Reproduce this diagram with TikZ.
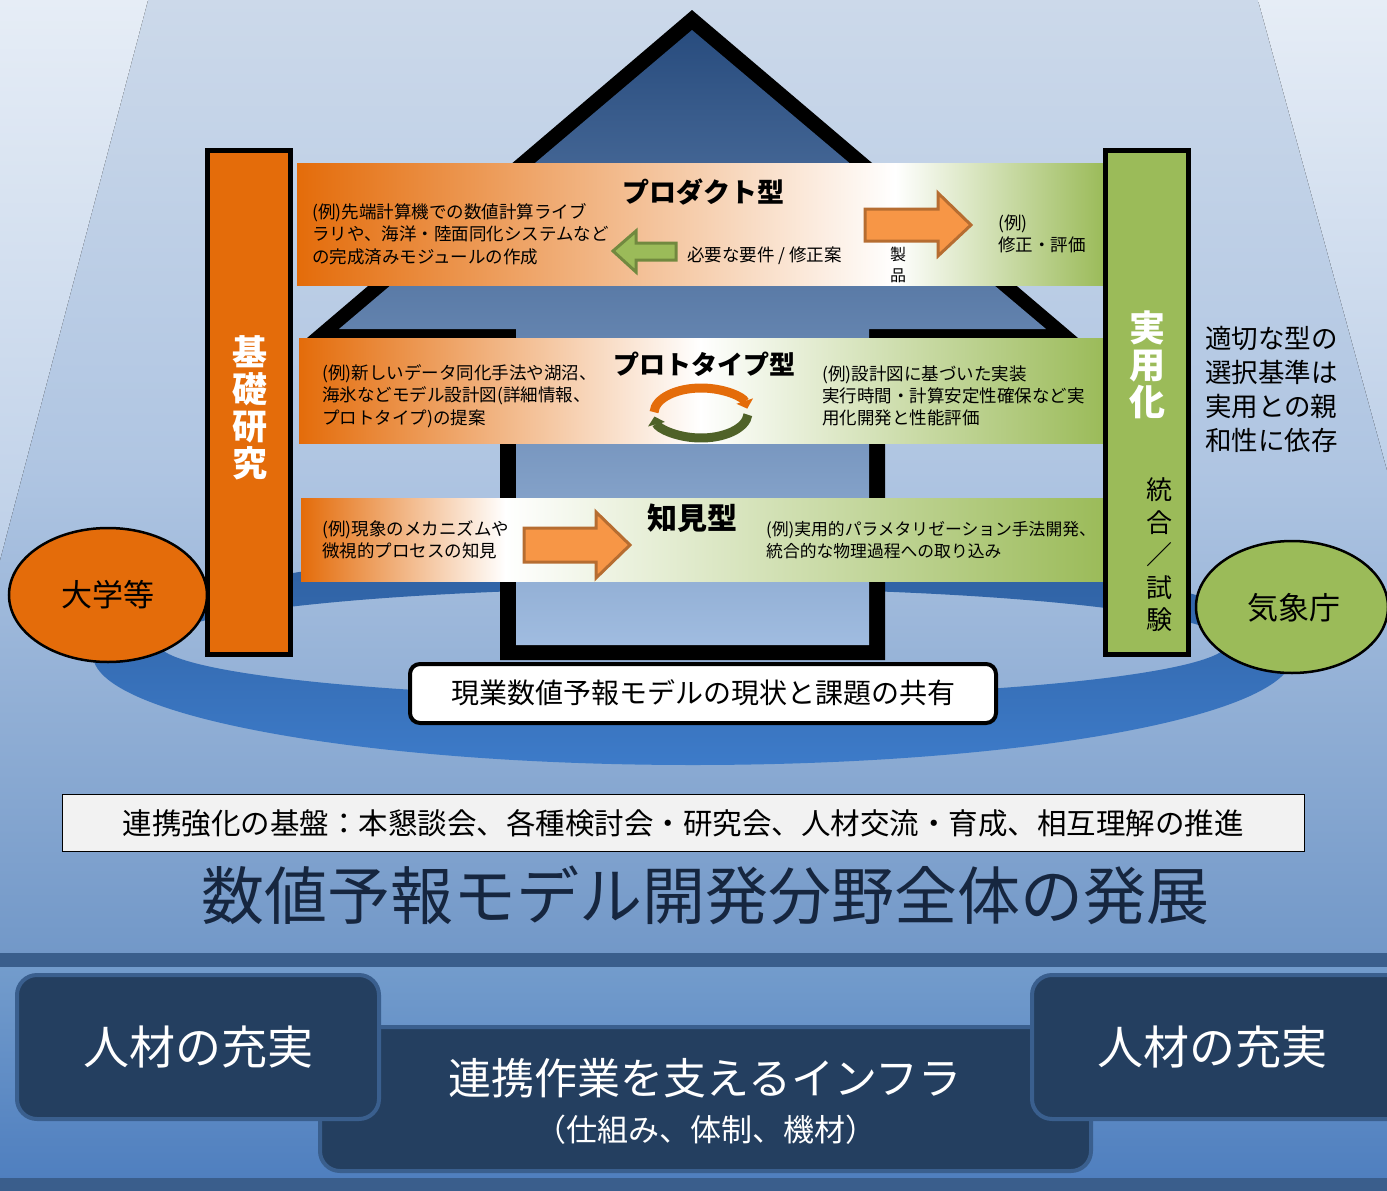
\documentclass[tikz,border=0pt]{standalone}
\usepackage{fontspec}
\setmainfont{Noto Sans CJK JP}
\usetikzlibrary{arrows.meta}
\newcommand{\fsz}[2]{\fontsize{#1}{#2}\selectfont}
\definecolor{bgA}{HTML}{CCD9EA}
\definecolor{bgB}{HTML}{AFC5E2}
\definecolor{bgC}{HTML}{7298C8}
\definecolor{sideA}{HTML}{E6EDF6}
\definecolor{sideB}{HTML}{BED0E8}
\definecolor{stripeC}{HTML}{3A5E8C}
\definecolor{lowA}{HTML}{739CCC}
\definecolor{lowB}{HTML}{4F7FBF}
\definecolor{ringA}{HTML}{2E5F9F}
\definecolor{ringB}{HTML}{3D7BC9}
\definecolor{houseA}{HTML}{284C7E}
\definecolor{houseB}{HTML}{3A69A3}
\definecolor{houseC}{HTML}{A0BCE0}
\definecolor{org}{HTML}{E46C0A}
\definecolor{grn}{HTML}{9BBB59}
\definecolor{arrO}{HTML}{F79646}
\definecolor{arrOd}{HTML}{B66D31}
\definecolor{arrGd}{HTML}{71893F}
\definecolor{cycG}{HTML}{4F6228}
\definecolor{navyF}{HTML}{243F60}
\definecolor{navyB}{HTML}{3A5F8E}
\definecolor{ttlc}{HTML}{16263F}
\definecolor{baseF}{HTML}{F2F2F2}
\begin{document}
\begin{tikzpicture}[x=1pt,y=-1pt,
  lbl/.style={inner sep=0pt, anchor=west, align=left, font=\fsz{17.5}{22.3}},
  head/.style={inner sep=0pt, font=\bfseries\fsz{27}{30}},
  vtxt/.style={inner sep=0pt, align=center},
  blockarrow/.style={line width=3, line join=miter},
  pillar/.style={line width=5, draw=black},
  bottombox/.style={fill=navyF, draw=navyB, line width=4, rounded corners=20},
]
\useasboundingbox (0,0) rectangle (1387,1191);
% background
\fill[top color=bgA, bottom color=bgB] (0,0) rectangle (1387,471);
\fill[top color=bgB, bottom color=bgC] (0,470) rectangle (1387,954);
\fill[top color=sideA, bottom color=sideB] (0,0) -- (148,0) -- (0,560) -- cycle;
\fill[top color=sideA, bottom color=sideB] (1258,0) -- (1387,0) -- (1387,470) -- cycle;
\fill[stripeC] (0,953) rectangle (1387,967);
\fill[top color=lowA, bottom color=lowB] (0,967) rectangle (1387,1178);
\fill[stripeC] (0,1178) rectangle (1387,1191);
% ring
\shade[top color=ringA, bottom color=ringB, even odd rule]
  (693,655) ellipse [x radius=600, y radius=110]
  (693,643) ellipse [x radius=535, y radius=55];
% house
\fill[black] (692,10) -- (1078,338) -- (885,338) -- (885,660) -- (500,660) -- (500,338) -- (307,338) -- cycle;
\fill[top color=houseA, middle color=houseB, bottom color=houseC]
  (692,30) -- (1046,329) -- (869,329) -- (869,645) -- (516,645) -- (516,329) -- (339,329) -- cycle;
% bands
\fill[left color=org, right color=white] (297,163) rectangle (895.5,285);
\fill[left color=white, right color=grn] (895,163) rectangle (1104,285);
\fill[left color=org, right color=white] (299,338) rectangle (700.5,443);
\fill[left color=white, right color=grn] (700,338) rectangle (1104,443);
\fill[left color=org, right color=white] (301,498) rectangle (505.5,581);
\fill[left color=white, right color=grn] (505,498) rectangle (1104,581);
% pillars
\draw[pillar, fill=org] (207.5,150.5) rectangle (290.5,654.5);
\draw[pillar, fill=grn] (1105.5,150.5) rectangle (1188.5,654.5);
% ellipses
\draw[fill=org, line width=2.5] (108,595) ellipse [x radius=99, y radius=67];
\draw[fill=grn, line width=2.5] (1292,607) ellipse [x radius=96, y radius=66];
% block arrows
\draw[blockarrow, fill=arrO, draw=arrOd] (865,209) -- (938,209) -- (938,193) -- (971,225) -- (938,256) -- (938,241) -- (865,241) -- cycle;
\draw[blockarrow, fill=grn, draw=arrGd] (613,251) -- (636,231) -- (636,243) -- (676,243) -- (676,260) -- (636,260) -- (636,272) -- cycle;
\draw[blockarrow, fill=arrO, draw=arrOd] (524,528) -- (596,528) -- (596,512) -- (630,545) -- (596,578) -- (596,562) -- (524,562) -- cycle;
% cycle arrows
\draw[org, line width=9, -{Triangle[length=8pt, width=17pt]}] (701,413) ++(182:47 and 25) arc[start angle=182, end angle=350, x radius=47, y radius=25];
\draw[cycG, line width=9, -{Triangle[length=8pt, width=17pt]}] (701,413) ++(4:47 and 25) arc[start angle=4, end angle=172, x radius=47, y radius=25];
% boxes
\draw[fill=white, line width=4, rounded corners=10] (410,664) rectangle (996,723);
\draw[fill=baseF, line width=1.5] (62.5,794.5) rectangle (1304.5,851.5);
\draw[bottombox] (320,1027) rectangle (1091,1171);
\draw[bottombox] (17,975) rectangle (379,1119);
\draw[bottombox] (1032,975) rectangle (1410,1119);
% texts
\node[head] (p1t) at (703,192) {プロダクト型};
\node[lbl] (p1l) at (312,234) {(例)先端計算機での数値計算ライブ\\ラリや、海洋・陸面同化システムなど\\の完成済みモジュールの作成};
\node[lbl, font=\fsz{17.5}{20}] (p1m) at (687,256) {必要な要件 / 修正案};
\node[vtxt, font=\fsz{16}{21}, anchor=north] (p1s) at (898,247) {製\\品};
\node[lbl] (p1r) at (998,234) {(例)\\修正・評価};
\node[head, font=\bfseries\fsz{26}{30}] (p2t) at (704,364) {プロトタイプ型};
\node[lbl] (p2l) at (322,396) {(例)新しいデータ同化手法や湖沼、\\海氷などモデル設計図(詳細情報、\\プロトタイプ)の提案};
\node[lbl] (p2r) at (822,396) {(例)設計図に基づいた実装\\実行時間・計算安定性確保など実\\用化開発と性能評価};
\node[head, font=\bfseries\fsz{30}{32}] (p3t) at (692,518) {知見型};
\node[lbl] (p3l) at (322,540) {(例)現象のメカニズムや\\微視的プロセスの知見};
\node[lbl, font=\fsz{16.8}{22.3}] (p3r) at (766,540) {(例)実用的パラメタリゼーション手法開発、\\統合的な物理過程への取り込み};
\node[vtxt, text=white, font=\bfseries\fsz{35}{37}] (kiso) at (250,408) {基\\礎\\研\\究};
\node[vtxt, text=white, font=\bfseries\fsz{36}{37}] (jitsu) at (1147,365) {実\\用\\化};
\node[vtxt, font=\fsz{26}{32.5}] (togo) at (1159,555) {統\\合\\／\\試\\験};
\node[inner sep=0pt, align=left, anchor=west, font=\fsz{26.5}{34}] (crit) at (1205,389) {適切な型の\\選択基準は\\実用との親\\和性に依存};
\node[font=\fsz{31}{34}] (univ) at (108,595) {大学等};
\node[font=\fsz{31}{34}] (jma) at (1294,608) {気象庁};
\node[font=\fsz{28}{30}] (share) at (703,693) {現業数値予報モデルの現状と課題の共有};
\node[font=\fsz{29.5}{32}] (base) at (683,823) {連携強化の基盤：本懇談会、各種検討会・研究会、人材交流・育成、相互理解の推進};
\node[text=ttlc, font=\fsz{63}{66}] (title) at (705,895) {数値予報モデル開発分野全体の発展};
\node[text=white, font=\fsz{46}{50}] (hr1) at (198,1047) {人材の充実};
\node[text=white, font=\fsz{46}{50}] (hr2) at (1212,1047) {人材の充実};
\node[text=white, font=\fsz{43}{46}] (infra) at (705,1078) {連携作業を支えるインフラ};
\node[text=white, font=\fsz{31}{34}] (infra2) at (706,1130) {（仕組み、体制、機材）};
\end{tikzpicture}
\end{document}
